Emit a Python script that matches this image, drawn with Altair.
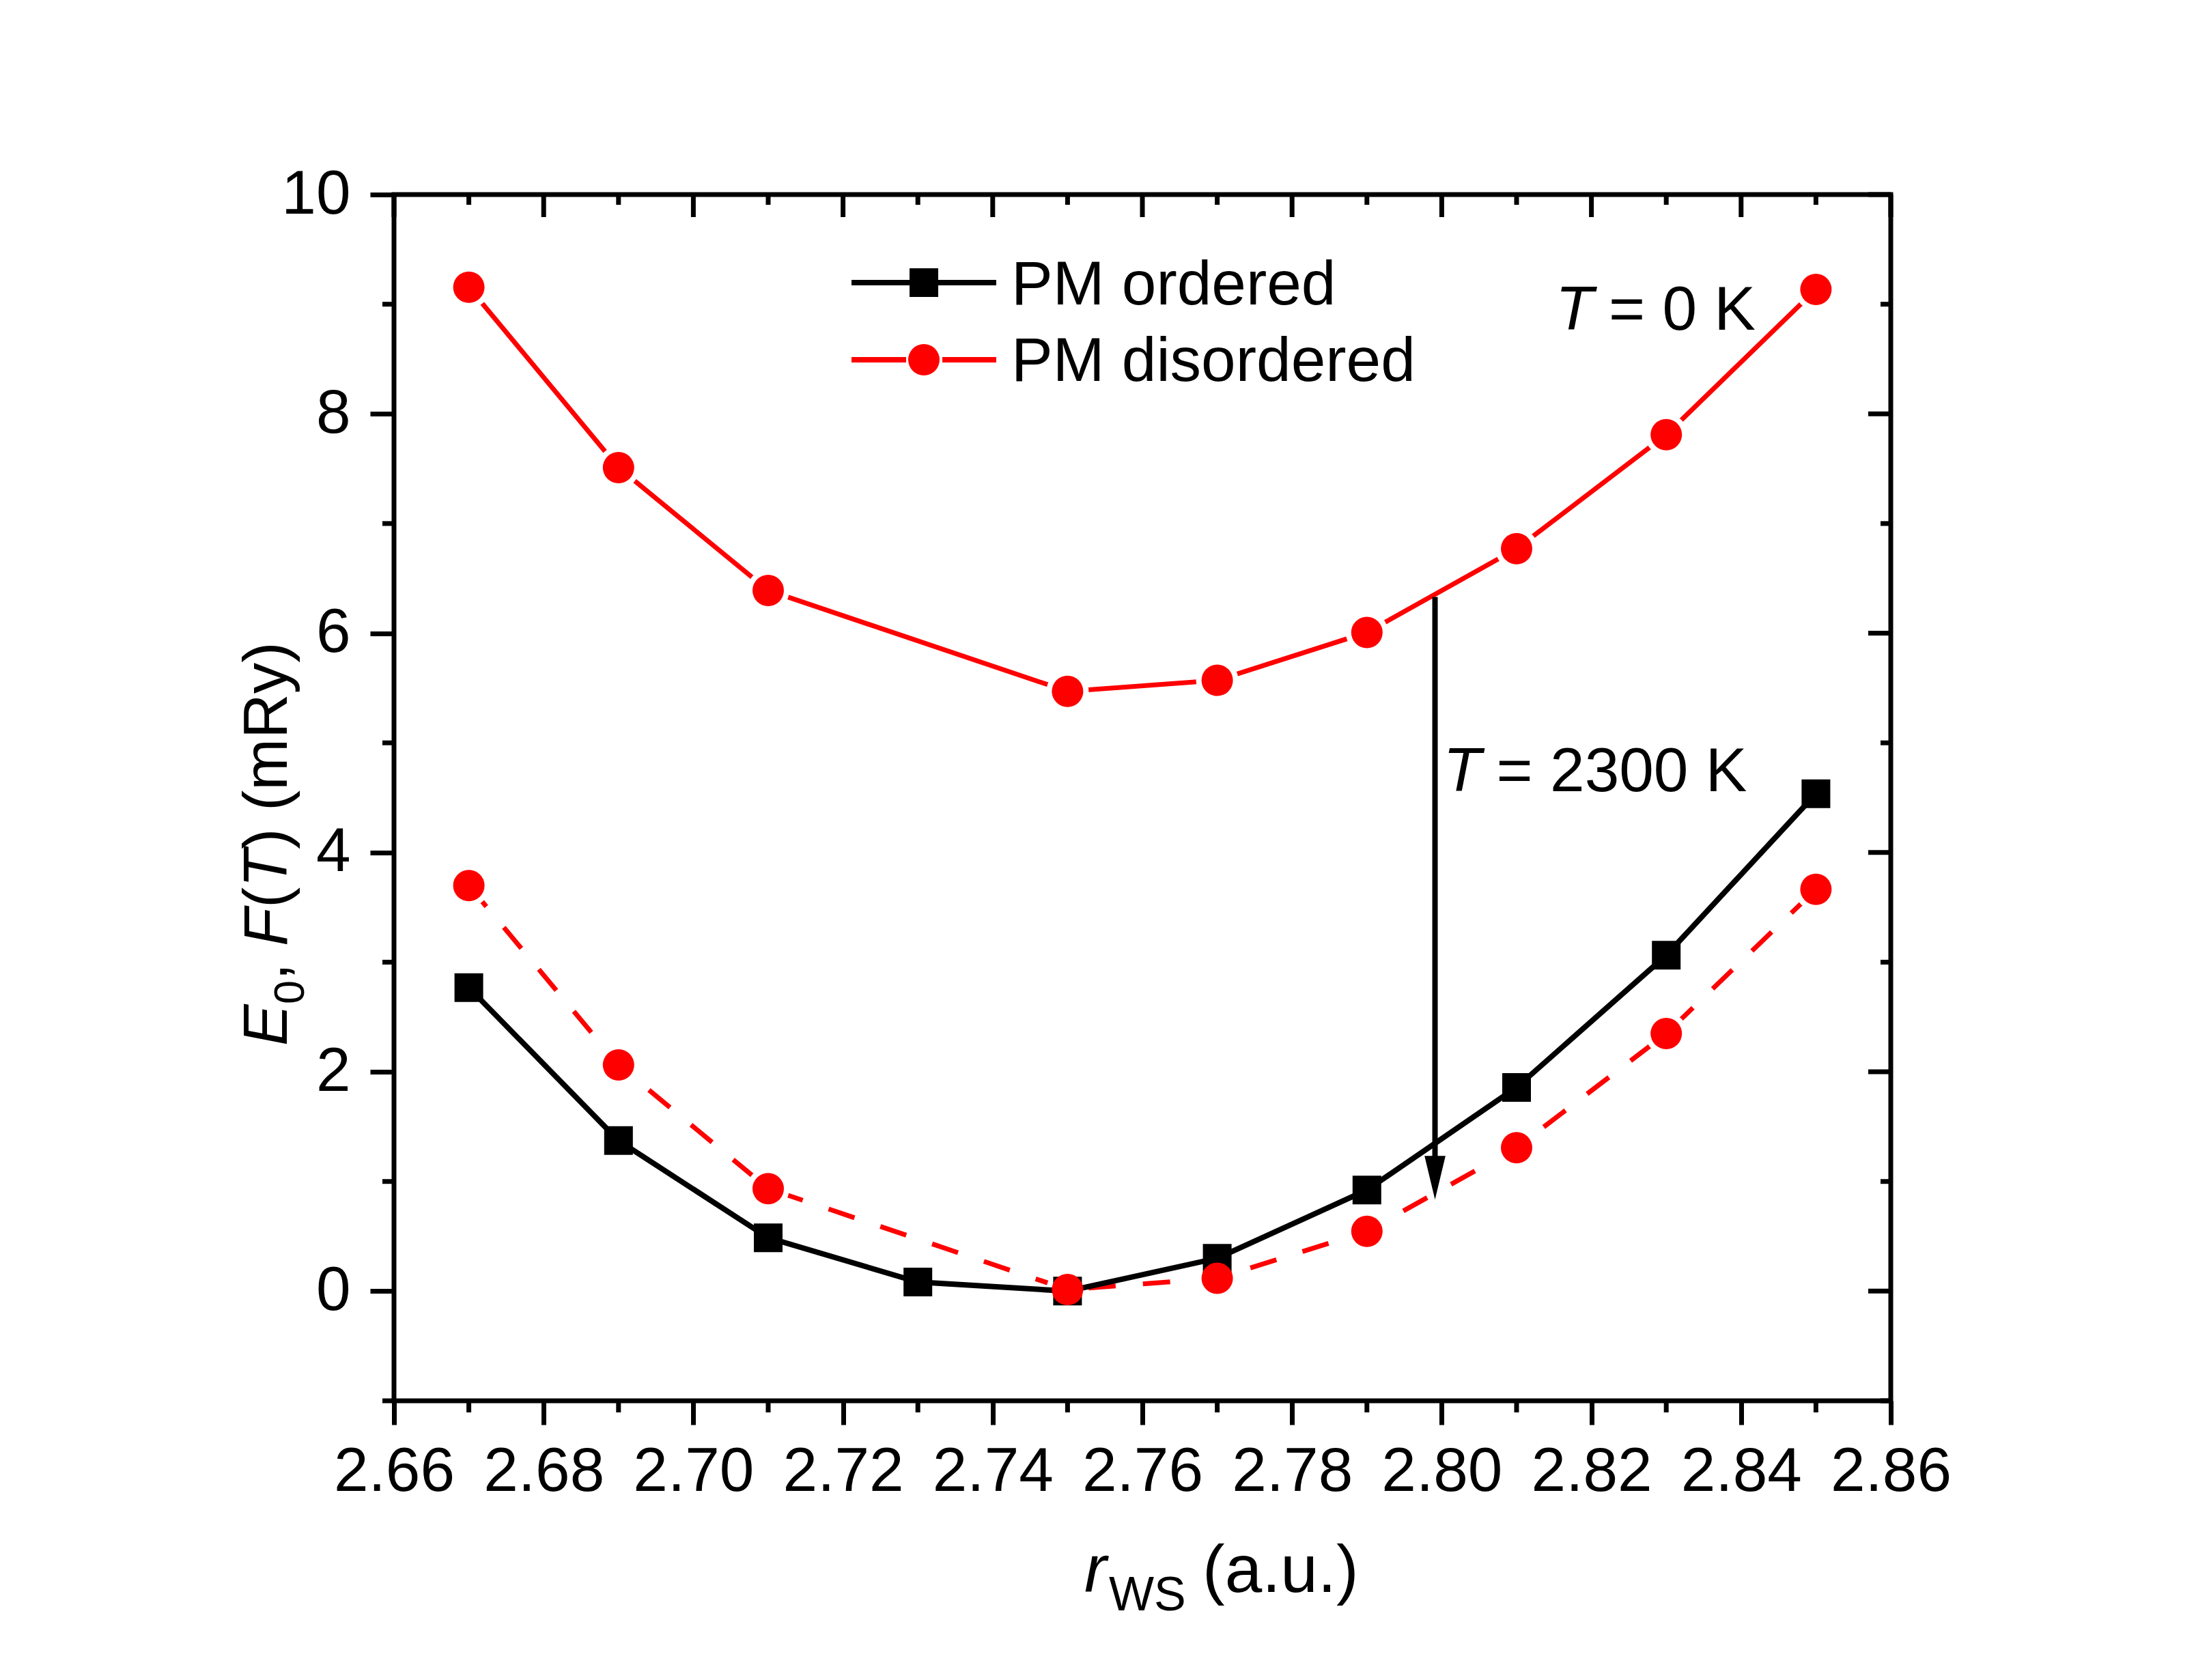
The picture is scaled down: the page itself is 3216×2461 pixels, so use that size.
import altair as alt
import pandas as pd

# ---------------- data ----------------
r_ordered = [2.67, 2.69, 2.71, 2.73, 2.75, 2.77, 2.79, 2.81, 2.83, 2.85]
E_ordered = [2.768, 1.373, 0.487, 0.083, 0.0, 0.300, 0.922, 1.858, 3.063, 4.536]

r_disordered = [2.67, 2.69, 2.71, 2.75, 2.77, 2.79, 2.81, 2.83, 2.85]
F_disordered_T = [3.699, 2.063, 0.935, 0.014, 0.117, 0.546, 1.308, 2.349, 3.664]
E_disordered_0 = [9.155, 7.510, 6.390, 5.470, 5.570, 6.007, 6.770, 7.810, 9.135]

x_major = [2.66, 2.68, 2.70, 2.72, 2.74, 2.76, 2.78, 2.80, 2.82, 2.84, 2.86]
x_minor = [2.67, 2.69, 2.71, 2.73, 2.75, 2.77, 2.79, 2.81, 2.83, 2.85]
y_major = [0, 2, 4, 6, 8, 10]
y_minor = [-1, 1, 3, 5, 7, 9]

arrow_x = 2.7991
arrow_top = 6.33
arrow_bottom = 1.15
arrow_head_y = 1.034

label_T0 = (2.8152, 8.77)
label_T2300 = (2.8002, 4.558)

# ---------------- style ----------------
FONT = "Liberation Sans"
W, H = 2192, 1767
FS = 91
CIRCLE = 2116
HALO = 3844
SQUARE = 1764

xs = alt.Scale(domain=[2.66, 2.86], nice=False, zero=False)
ys = alt.Scale(domain=[-1, 10], nice=False, zero=False)

AX = alt.Axis(values=x_major, format=".2f", title=None, grid=False, domain=False,
              tickSize=35, tickWidth=7, tickColor="black",
              labelFont=FONT, labelFontSize=FS, labelColor="black",
              labelPadding=24, labelFlush=False, labelOverlap=False)
AY = alt.Axis(values=y_major, format="d", title=None, grid=False, domain=False,
              tickSize=35, tickWidth=7, tickColor="black",
              labelFont=FONT, labelFontSize=FS, labelColor="black",
              labelPadding=29, labelFlush=False, labelOverlap=False)


def X(f):
    return alt.X(f, type="quantitative", scale=xs, axis=AX)


def Y(f):
    return alt.Y(f, type="quantitative", scale=ys, axis=AY)


df_o = pd.DataFrame({"r": r_ordered, "E": E_ordered})
df_dT = pd.DataFrame({"r": r_disordered, "E": F_disordered_T})
df_d0 = pd.DataFrame({"r": r_disordered, "E": E_disordered_0})
df_xmaj = pd.DataFrame({"v": x_major})
df_xmin = pd.DataFrame({"v": x_minor})
df_ymaj = pd.DataFrame({"v": y_major})
df_ymin = pd.DataFrame({"v": y_minor})
one = pd.DataFrame({"a": [0]})

layers = []

# frame ticks (minor / mirrored)
tick = dict(color="black", strokeWidth=7)
layers.append(alt.Chart(df_xmin).mark_rule(**tick).encode(x=X("v"), y=alt.value(H), y2=alt.value(H + 17)))
layers.append(alt.Chart(df_xmaj).mark_rule(**tick).encode(x=X("v"), y=alt.value(0), y2=alt.value(33)))
layers.append(alt.Chart(df_xmin).mark_rule(**tick).encode(x=X("v"), y=alt.value(0), y2=alt.value(15)))
layers.append(alt.Chart(df_ymin).mark_rule(**tick).encode(y=Y("v"), x=alt.value(-17), x2=alt.value(0)))
layers.append(alt.Chart(df_ymaj).mark_rule(**tick).encode(y=Y("v"), x=alt.value(W - 33), x2=alt.value(W)))
layers.append(alt.Chart(df_ymin).mark_rule(**tick).encode(y=Y("v"), x=alt.value(W - 15), x2=alt.value(W)))

# red lines
layers.append(alt.Chart(df_d0).mark_line(color="#ff0000", strokeWidth=7).encode(x=X("r"), y=Y("E")))
layers.append(alt.Chart(df_dT).mark_line(color="#ff0000", strokeWidth=7, strokeDash=[40, 40]).encode(x=X("r"), y=Y("E")))
# white halos (gap between line and symbol)
for d in (df_d0, df_dT):
    layers.append(alt.Chart(d).mark_point(shape="circle", filled=True, color="white", opacity=1, size=HALO)
                  .encode(x=X("r"), y=Y("E")))
# black line + squares
layers.append(alt.Chart(df_o).mark_line(color="black", strokeWidth=8).encode(x=X("r"), y=Y("E")))
layers.append(alt.Chart(df_o).mark_point(shape="square", filled=True, color="black", opacity=1, size=SQUARE)
              .encode(x=X("r"), y=Y("E")))
# red circles
for d in (df_d0, df_dT):
    layers.append(alt.Chart(d).mark_point(shape="circle", filled=True, color="#ff0000", opacity=1, size=CIRCLE)
                  .encode(x=X("r"), y=Y("E")))

# arrow
df_arrow = pd.DataFrame({"x": [arrow_x], "y": [arrow_top], "y2": [arrow_bottom]})
layers.append(alt.Chart(df_arrow).mark_rule(color="black", strokeWidth=8)
              .encode(x=X("x"), y=Y("y"), y2="y2:Q"))
df_head = pd.DataFrame({"x": [arrow_x], "y": [arrow_head_y]})
layers.append(alt.Chart(df_head).mark_point(shape="M-0.48,-1L0.48,-1L0,1Z", filled=True, color="black",
                                            opacity=1, size=4096).encode(x=X("x"), y=Y("y")))

# annotations
txt = dict(font=FONT, fontSize=FS, color="black", align="left", baseline="alphabetic")
for (lx, ly), rest in ((label_T0, "= 0 K"), (label_T2300, "= 2300 K")):
    d = pd.DataFrame({"x": [lx], "y": [ly]})
    layers.append(alt.Chart(d).mark_text(text="T", fontStyle="italic", **txt).encode(x=X("x"), y=Y("y")))
    layers.append(alt.Chart(d).mark_text(text=rest, dx=78, **txt).encode(x=X("x"), y=Y("y")))

# legend
layers.append(alt.Chart(one).mark_rule(color="black", strokeWidth=8)
              .encode(x=alt.value(670), x2=alt.value(882), y=alt.value(129)))
layers.append(alt.Chart(one).mark_point(shape="square", filled=True, color="black", opacity=1, size=SQUARE)
              .encode(x=alt.value(776), y=alt.value(129)))
layers.append(alt.Chart(one).mark_rule(color="#ff0000", strokeWidth=8)
              .encode(x=alt.value(670), x2=alt.value(750), y=alt.value(242)))
layers.append(alt.Chart(one).mark_rule(color="#ff0000", strokeWidth=8)
              .encode(x=alt.value(803), x2=alt.value(882), y=alt.value(242)))
layers.append(alt.Chart(one).mark_point(shape="circle", filled=True, color="#ff0000", opacity=1, size=CIRCLE)
              .encode(x=alt.value(776), y=alt.value(242)))
layers.append(alt.Chart(one).mark_text(text="PM ordered", **txt).encode(x=alt.value(904), y=alt.value(161)))
layers.append(alt.Chart(one).mark_text(text="PM disordered", **txt).encode(x=alt.value(904), y=alt.value(273)))

# x axis title: r_WS (a.u.)
layers.append(alt.Chart(one).mark_text(text="r", fontStyle="italic", font=FONT, fontSize=98, color="black",
                                       align="left", baseline="alphabetic")
              .encode(x=alt.value(1011), y=alt.value(2047)))
layers.append(alt.Chart(one).mark_text(text="WS", font=FONT, fontSize=70, color="black",
                                       align="left", baseline="alphabetic")
              .encode(x=alt.value(1047), y=alt.value(2074)))
layers.append(alt.Chart(one).mark_text(text="(a.u.)", font=FONT, fontSize=98, color="black",
                                       align="left", baseline="alphabetic")
              .encode(x=alt.value(1184), y=alt.value(2047)))

# y axis title: E_0, F(T) (mRy)   (rotated, reading upward)
ypieces = [("E", "italic", 91, 1247, -157),
           ("0", "normal", 63, 1186, -132),
           (",", "normal", 91, 1151, -157),
           ("F", "italic", 91, 1101, -157),
           ("(", "normal", 91, 1045, -157),
           ("T", "italic", 91, 1015, -157),
           (")", "normal", 91, 959, -157),
           ("(mRy)", "normal", 91, 903, -157)]
for t, st, fs, py, px in ypieces:
    layers.append(alt.Chart(one).mark_text(text=t, fontStyle=st, font=FONT, fontSize=fs, color="black",
                                           align="left", baseline="alphabetic", angle=270)
                  .encode(x=alt.value(px), y=alt.value(py)))

chart = alt.layer(*layers).properties(
    width=W, height=H,
    autosize=alt.AutoSizeParams(type="none"),
    padding={"left": 569, "top": 277, "right": 420, "bottom": 380},
    background="white",
).configure_view(stroke="black", strokeWidth=7)

chart.save("out.html", embed_options={"renderer": "svg", "actions": False})
